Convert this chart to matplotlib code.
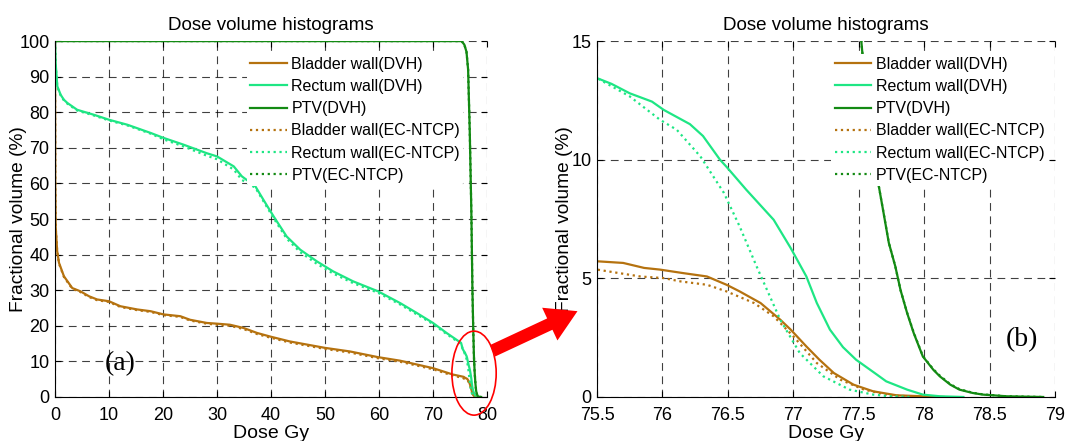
import numpy as np
import matplotlib.pyplot as plt
import matplotlib.patches as mpatches

# dose (Gy) / fractional volume (%)
bladder_dose = [0, 0.05, 0.12, 0.4, 0.74, 1.66, 3.2, 4.7, 6.3, 7.8, 10, 12.1, 15.2, 17.7, 20.1,
                23.2, 25, 28.1, 30, 32.4, 34.9, 37.4, 39.8, 43.5, 50, 54.6, 59.8, 63.9, 70, 73.7,
                75.5, 75.70, 75.86, 75.98, 76.16, 76.34, 76.49, 76.59, 76.75, 76.90, 76.98,
                77.10, 77.20, 77.31, 77.46, 77.61, 77.79, 77.99, 78.15]
bladder_dvh = [100, 60, 48, 41, 37.7, 33.9, 30.6, 29.7, 28.3, 27.4, 26.9, 25.5, 24.6, 24.1, 23.2,
               22.7, 21.7, 20.8, 20.6, 20.3, 19.4, 18.0, 17.0, 15.6, 13.8, 12.8, 11.2, 10.2, 8.1, 6.3,
               5.72, 5.65, 5.44, 5.37, 5.22, 5.08, 4.73, 4.45, 3.96, 3.26, 2.84,
               2.13, 1.57, 1.01, 0.52, 0.24, 0.07, 0.03, 0]

bladder_ec_dose = [0, 0.05, 0.12, 0.4, 0.74, 1.66, 3.2, 4.7, 6.3, 7.8, 10, 12.1, 15.2, 17.7, 20.1,
                   23.2, 25, 28.1, 30, 32.4, 34.9, 37.4, 39.8, 43.5, 50, 54.6, 59.8, 63.9, 70, 73.7,
                   75.5, 75.83, 76.01, 76.14, 76.34, 76.49, 76.70, 76.85, 77.0, 77.18, 77.36,
                   77.54, 77.74, 78.0]
bladder_ec = [100, 60, 48, 41, 37.5, 33.7, 30.4, 29.5, 28.1, 27.2, 26.7, 25.3, 24.4, 23.9, 23.0,
              22.5, 21.5, 20.6, 20.3, 20.0, 19.1, 17.7, 16.7, 15.3, 13.5, 12.5, 10.9, 9.9, 7.8, 6.0,
              5.37, 5.08, 5.01, 4.87, 4.73, 4.45, 3.96, 3.40, 2.56, 1.43, 0.73,
              0.31, 0.07, 0]

rectum_dose = [0, 0.12, 0.43, 1.05, 1.66, 2.3, 4.1, 7.2, 10, 13.4, 17.7, 20.1, 23.8, 28.1, 30,
               33.1, 34.6, 37.1, 38.6, 40.5, 42.9, 45.4, 48.5, 51.5, 55.2, 59.8, 63.9, 67, 70,
               72.5, 75.2, 75.5, 75.61, 75.75, 75.92, 76.01, 76.21, 76.31, 76.44, 76.49, 76.64,
               76.85, 76.98, 77.10, 77.18, 77.28, 77.38, 77.48, 77.64, 77.71, 77.87, 77.99, 78.12, 78.3]
rectum_dvh = [100, 93.8, 87.3, 84.9, 83.5, 82.6, 80.7, 79.3, 77.9, 76.5, 74.2, 72.8, 70.9, 68.5, 67.6,
              64.8, 62.0, 59.2, 55.4, 50.7, 45.1, 41.4, 38.1, 35.3, 32.5, 29.7, 26.4, 23.6, 20.8,
              18.0, 15.2, 13.44, 13.2, 12.8, 12.45, 12.1, 11.5, 11.0, 10.0, 9.7, 8.74,
              7.47, 6.28, 5.08, 3.96, 2.84, 2.1, 1.57, 0.94, 0.66, 0.31, 0.1, 0.03, 0]

rectum_ec_dose = [0, 0.12, 0.43, 1.05, 1.66, 2.3, 4.1, 7.2, 10, 13.4, 17.7, 20.1, 23.8, 28.1, 30,
                  33.1, 34.6, 37.1, 38.6, 40.5, 42.9, 45.4, 48.5, 51.5, 55.2, 59.8, 63.9, 67, 70,
                  72.5, 75.2, 75.5, 75.75, 75.98, 76.11, 76.29, 76.47, 76.59, 76.72, 76.90,
                  77.05, 77.23, 77.43, 77.61, 77.74, 77.9]
rectum_ec = [100, 93.6, 87.1, 84.7, 83.3, 82.4, 80.5, 79.1, 77.7, 76.3, 74.0, 72.4, 70.4, 67.8, 66.8,
             63.9, 61.0, 58.8, 55.0, 50.2, 44.5, 40.7, 37.4, 34.7, 32.0, 29.3, 26.0, 23.2, 20.5,
             17.7, 14.9, 13.44, 12.67, 11.69, 11.26, 10.14, 8.6, 7.19, 5.5, 3.26,
             1.85, 0.87, 0.31, 0.1, 0.03, 0]

ptv_dose = [0, 75.3, 75.8, 76.2, 76.5, 76.8, 77.1, 77.3, 77.45, 77.52, 77.56, 77.6, 77.65, 77.69,
            77.73, 77.78, 77.82, 77.87, 77.92, 77.99, 78.07, 78.12, 78.2, 78.27, 78.37, 78.45,
            78.63, 78.91]
ptv_dvh = [100, 100, 99, 97, 92, 75, 52, 30, 19, 15, 12.5, 10.5, 9.0, 7.76,
           6.5, 5.5, 4.5, 3.54, 2.7, 1.71, 1.15, 0.87, 0.52, 0.31, 0.17, 0.1,
           0.03, 0]
ptv_ec_dose = [0, 75.3, 75.8, 76.2, 76.5, 76.8, 77.1, 77.3, 77.45, 77.52, 77.56, 77.6, 77.65, 77.69,
               77.73, 77.78, 77.82, 77.87, 77.92, 77.99, 78.07, 78.12, 78.2, 78.27, 78.37, 78.45,
               78.63, 78.91]
ptv_ec = [100, 100, 99, 97, 92, 75, 52, 30, 19, 15, 12.5, 10.5, 9.0, 7.76,
          6.5, 5.5, 4.5, 3.55, 2.72, 1.73, 1.17, 0.9, 0.54, 0.33, 0.18, 0.11,
          0.03, 0]

c_bladder = '#b5720f'
c_rectum = '#1ee684'
c_ptv = '#138a13'

plt.rcParams['font.family'] = ['Liberation Sans', 'DejaVu Sans']

fig = plt.figure(figsize=(10.68, 4.41), dpi=100)
ax1 = fig.add_axes([0.0515, 0.0998, 0.4045, 0.807])
ax2 = fig.add_axes([0.559, 0.0998, 0.4288, 0.807])


def draw(ax, ylab_x, leg_x):
    ax.plot(bladder_dose, bladder_dvh, color=c_bladder, lw=1.6, label='Bladder wall(DVH)')
    ax.plot(rectum_dose, rectum_dvh, color=c_rectum, lw=1.6, label='Rectum wall(DVH)')
    ax.plot(ptv_dose, ptv_dvh, color=c_ptv, lw=1.6, label='PTV(DVH)')
    ax.plot(bladder_ec_dose, bladder_ec, color=c_bladder, lw=1.6, ls=':', label='Bladder wall(EC-NTCP)')
    ax.plot(rectum_ec_dose, rectum_ec, color=c_rectum, lw=1.6, ls=':', label='Rectum wall(EC-NTCP)')
    ax.plot(ptv_ec_dose, ptv_ec, color=c_ptv, lw=1.6, ls=':', label='PTV(EC-NTCP)')
    ax.grid(True, color='black', ls=(0, (7, 5)), lw=0.8, alpha=0.75)
    ax.set_axisbelow(True)
    ax.spines['top'].set_visible(False)
    ax.spines['right'].set_visible(False)
    ax.tick_params(direction='in', top=True, right=True, labelsize=13, length=4, pad=4)
    ax.tick_params(axis='x', pad=7)
    ax.set_title('Dose volume histograms', fontsize=13.5, pad=8)
    ax.set_xlabel('Dose Gy', fontsize=14)
    ax.set_ylabel('Fractional volume (%)', fontsize=13.8)
    ax.yaxis.set_label_coords(ylab_x, 0.5)
    ax.xaxis.set_label_coords(0.5, -0.08)
    ax.legend(loc='upper right', bbox_to_anchor=(leg_x, 0.965), fontsize=11.5, frameon=True,
              facecolor='white', edgecolor='none', framealpha=1, handlelength=2.3,
              handletextpad=0.3, labelspacing=0.45, borderpad=0.2, borderaxespad=0)


draw(ax1, -0.065, 0.945)
ax1.set_xlim(0, 80)
ax1.set_ylim(0, 100)
ax1.set_xticks(np.arange(0, 81, 10))
ax1.set_yticks(np.arange(0, 101, 10))
ax1.text(12, 9.5, '(a)', fontsize=20, family='Liberation Serif', ha='center', va='center')
ax1.add_patch(mpatches.Ellipse((77.6, 6.7), 8.2, 23.6, fill=False, edgecolor='red',
                               lw=1.2, clip_on=False, zorder=5))

draw(ax2, -0.052, 0.985)
ax2.set_xlim(75.5, 79)
ax2.set_ylim(0, 15)
ax2.set_xticks(np.arange(75.5, 79.01, 0.5))
ax2.set_xticklabels(['%g' % t for t in np.arange(75.5, 79.01, 0.5)])
ax2.set_yticks([0, 5, 10, 15])
ax2.text(78.75, 2.4, '(b)', fontsize=20, family='Liberation Serif', ha='center', va='center')

arrow = mpatches.FancyArrowPatch((4.90, 0.89), (5.80, 1.31), transform=fig.dpi_scale_trans,
                                 arrowstyle='simple,head_width=2.6,head_length=2.2,tail_width=0.9',
                                 mutation_scale=10, color='red', lw=0)
fig.add_artist(arrow)

fig.savefig('out.png', dpi=100)
